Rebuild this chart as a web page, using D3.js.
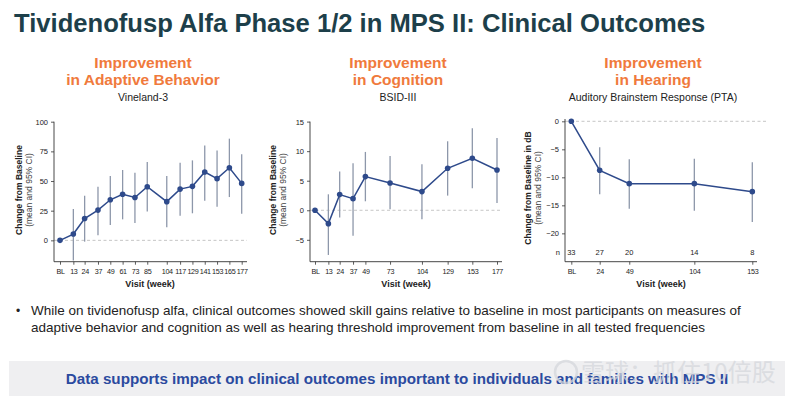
<!DOCTYPE html>
<html>
<head>
<meta charset="utf-8">
<script src="https://cdn.jsdelivr.net/npm/d3@7/dist/d3.min.js"></script>
<style>
  html, body { margin: 0; padding: 0; background: #fff; }
  svg { display: block; font-family: "Liberation Sans", Arial, Helvetica, sans-serif; }
</style>
</head>
<body>
<svg id="chart" width="800" height="398"></svg>
<script>
// ---------- DATA ----------
const adaptiveWeeks = [0, 13, 24, 37, 49, 61, 73, 85, 104, 117, 129, 141, 153, 165, 177];
const adaptiveMean  = [0, 5.3, 18.4, 25.5, 34.2, 38.8, 36.1, 45.2, 32.6, 43.2, 45.5, 57.6, 52.0, 61.2, 48.0];
const adaptiveLow   = [null, -17, -1.1, 4.2, 12.9, 17.7, 14.6, 24.4, 11.0, 20.8, 22.8, 33.4, 28.4, 36.5, 22.5];
const adaptiveHigh  = [null, 26.4, 37.6, 45.2, 54.2, 59.3, 57.0, 66.0, 54.2, 65.4, 67.4, 80.0, 75.8, 85.7, 72.5];
const adaptiveYTicks = [0, 25, 50, 75, 100];

const cognitionWeeks = [0, 13, 24, 37, 49, 73, 104, 129, 153, 177];
const cognitionMean  = [0, -2.26, 2.65, 1.97, 5.7, 4.62, 3.16, 7.1, 8.8, 6.82];
const cognitionLow   = [null, -7.56, -1.24, -4.29, 1.52, 0.17, -1.52, 2.48, 3.72, 1.24];
const cognitionHigh  = [null, 2.7, 6.54, 7.95, 9.87, 9.19, 7.78, 11.67, 13.87, 12.24];
const cognitionYTicks = [-5, 0, 5, 10, 15];

const hearingWeeks = [0, 24, 49, 104, 153];
const hearingMean  = [0, -8.75, -11.13, -11.13, -12.56];
const hearingLow   = [null, -13.04, -15.6, -15.95, -17.98];
const hearingHigh  = [null, -4.64, -6.79, -6.67, -7.32];
const hearingN     = [33, 27, 20, 14, 8];
const hearingYTicks = [-20, -15, -10, -5, 0];

const pageTitle = "Tividenofusp Alfa Phase 1/2 in MPS II: Clinical Outcomes";
const panelHeads = [
  ["Improvement", "in Adaptive Behavior", "Vineland-3"],
  ["Improvement", "in Cognition", "BSID-III"],
  ["Improvement", "in Hearing", "Auditory Brainstem Response (PTA)"]
];
const bulletLines = [
  "While on tividenofusp alfa, clinical outcomes showed skill gains relative to baseline in most participants on measures of",
  "adaptive behavior and cognition as well as hearing threshold improvement from baseline in all tested frequencies"
];
const bannerText = "Data supports impact on clinical outcomes important to individuals and families with MPS II";
const watermarkText = "雪球：抓住10倍股";

// ---------- STYLE ----------
const LINE = "#2e4a8b";
const BAR = "#8d97aa";
const ORANGE = "#f07a3c";

const svg = d3.select("#chart");

svg.append("text").attr("x", 14).attr("y", 32)
  .attr("font-size", 25.6).attr("font-weight", "bold").attr("fill", "#1d3f4a")
  .text(pageTitle);

const headCx = [143, 398, 653];
panelHeads.forEach((h, i) => {
  svg.append("text").attr("x", headCx[i]).attr("y", 68).attr("text-anchor", "middle")
    .attr("font-size", 15.5).attr("font-weight", "bold").attr("fill", ORANGE).text(h[0]);
  svg.append("text").attr("x", headCx[i]).attr("y", 85).attr("text-anchor", "middle")
    .attr("font-size", 15.5).attr("font-weight", "bold").attr("fill", ORANGE).text(h[1]);
  svg.append("text").attr("x", headCx[i]).attr("y", 101).attr("text-anchor", "middle")
    .attr("font-size", 10.5).attr("fill", "#222").text(h[2]);
});

function panel(cfg) {
  const g = svg.append("g");
  const x = d3.scaleLinear().domain(cfg.xDomain).range(cfg.xRange);
  const y = d3.scaleLinear().domain(cfg.yDomain).range([261.7, cfg.yTopPx]);
  const axisY = cfg.axisX;

  // zero dashed line
  g.append("line").attr("x1", axisY).attr("x2", cfg.dashEnd)
    .attr("y1", y(0)).attr("y2", y(0))
    .attr("stroke", "#b8b8b8").attr("stroke-width", 0.8).attr("stroke-dasharray", "3,2.5");

  // y axis
  const ya = d3.axisLeft(y).tickValues(cfg.yTicks).tickSize(3).tickPadding(3)
    .tickFormat(d3.format("d"));
  const yg = g.append("g").attr("transform", `translate(${axisY},0)`).call(ya);
  yg.select(".domain").attr("d", `M-0,${cfg.axisTop}V261.7`).attr("stroke", "#333").attr("stroke-width", 0.9);
  yg.selectAll(".tick line").attr("stroke", "#333").attr("stroke-width", 0.8);
  yg.selectAll(".tick text").attr("font-size", 7.5).attr("fill", "#222")
    .attr("font-family", "Liberation Sans, Arial, sans-serif");

  // x axis
  const xa = d3.axisBottom(x).tickValues(cfg.weeks).tickSize(3).tickPadding(4)
    .tickFormat(d => d === 0 ? "BL" : d);
  const xg = g.append("g").attr("transform", `translate(0,261.7)`).call(xa);
  xg.select(".domain").attr("d", `M${axisY},0H${cfg.axisEnd}`).attr("stroke", "#333").attr("stroke-width", 0.9);
  xg.selectAll(".tick line").attr("stroke", "#333").attr("stroke-width", 0.8);
  xg.selectAll(".tick text").attr("font-size", 7.2).attr("fill", "#222")
    .attr("letter-spacing", -0.3)
    .attr("font-family", "Liberation Sans, Arial, sans-serif");

  // error bars
  cfg.weeks.forEach((w, i) => {
    if (cfg.low[i] === null) return;
    g.append("line").attr("x1", x(w)).attr("x2", x(w))
      .attr("y1", y(Math.max(cfg.low[i], cfg.yDomain[0]))).attr("y2", y(cfg.high[i]))
      .attr("stroke", BAR).attr("stroke-width", 1.3);
  });

  // mean line
  const line = d3.line().x((d, i) => x(cfg.weeks[i])).y(d => y(d));
  g.append("path").datum(cfg.mean).attr("d", line)
    .attr("fill", "none").attr("stroke", LINE).attr("stroke-width", 1.5);
  g.selectAll("circle.pt").data(cfg.mean).enter().append("circle")
    .attr("cx", (d, i) => x(cfg.weeks[i])).attr("cy", d => y(d)).attr("r", 2.8)
    .attr("fill", LINE);

  // n row
  if (cfg.n) {
    g.append("text").attr("x", axisY - 5).attr("y", 255).attr("text-anchor", "end")
      .attr("font-size", 7.5).attr("fill", "#222").text("n");
    cfg.n.forEach((v, i) => {
      g.append("text").attr("x", x(cfg.weeks[i])).attr("y", 255).attr("text-anchor", "middle")
        .attr("font-size", 7.5).attr("fill", "#222").text(v);
    });
  }

  // axis titles
  const lx = cfg.labelX, ly = cfg.labelY;
  g.append("text").attr("transform", `translate(${lx},${ly}) rotate(-90)`)
    .attr("text-anchor", "middle").attr("font-size", 8.5).attr("font-weight", "bold").attr("fill", "#222")
    .text(cfg.yLabel);
  g.append("text").attr("transform", `translate(${lx + 10},${ly}) rotate(-90)`)
    .attr("text-anchor", "middle").attr("font-size", 8.5).attr("fill", "#444")
    .text("(mean and 95% CI)");
  g.append("text").attr("x", cfg.xLabelX).attr("y", 287).attr("text-anchor", "middle")
    .attr("font-size", 9).attr("font-weight", "bold").attr("fill", "#222").text("Visit (week)");
}

panel({
  weeks: adaptiveWeeks, mean: adaptiveMean, low: adaptiveLow, high: adaptiveHigh,
  xDomain: [0, 177], xRange: [60, 241.7], yDomain: [-18, 100], yTopPx: 121.7,
  yTicks: adaptiveYTicks, axisX: 54, axisTop: 121.7, axisEnd: 247, dashEnd: 247,
  labelX: 22, labelY: 190, xLabelX: 150, yLabel: "Change from Baseline"
});
panel({
  weeks: cognitionWeeks, mean: cognitionMean, low: cognitionLow, high: cognitionHigh,
  xDomain: [0, 177], xRange: [315, 497], yDomain: [-8.7, 15], yTopPx: 121.6,
  yTicks: cognitionYTicks, axisX: 310, axisTop: 121.6, axisEnd: 502, dashEnd: 502,
  labelX: 276, labelY: 190, xLabelX: 406, yLabel: "Change from Baseline"
});
panel({
  weeks: hearingWeeks, mean: hearingMean, low: hearingLow, high: hearingHigh, n: hearingN,
  xDomain: [0, 153], xRange: [571.3, 752.3], yDomain: [-25.06, 0], yTopPx: 121.3,
  yTicks: hearingYTicks, axisX: 565, axisTop: 119, axisEnd: 757, dashEnd: 767,
  labelX: 531, labelY: 188, xLabelX: 661, yLabel: "Change from Baseline in dB"
});

// bullet text
svg.append("text").attr("x", 16).attr("y", 315).attr("font-size", 12).attr("fill", "#222").text("•");
bulletLines.forEach((t, i) => {
  svg.append("text").attr("x", 31).attr("y", 315 + i * 17).attr("font-size", 13.5).attr("fill", "#222").text(t);
});

// banner
svg.append("rect").attr("x", 9).attr("y", 361).attr("width", 776).attr("height", 35).attr("fill", "#efeff1");
svg.append("text").attr("x", 397).attr("y", 384).attr("text-anchor", "middle")
  .attr("font-size", 15.2).attr("font-weight", "bold").attr("fill", "#2b4a9f").text(bannerText);

// watermark (overlay present in the reference image)
const wm = svg.append("g").attr("opacity", 0.75);
wm.append("circle").attr("cx", 566).attr("cy", 372).attr("r", 11).attr("fill", "none")
  .attr("stroke", "#d5d7dc").attr("stroke-width", 2.5);
wm.append("text").attr("x", 581).attr("y", 381).attr("font-size", 24)
  .attr("font-family", "Noto Sans CJK SC").attr("fill", "#d5d7dc").text(watermarkText);
</script>
</body>
</html>
